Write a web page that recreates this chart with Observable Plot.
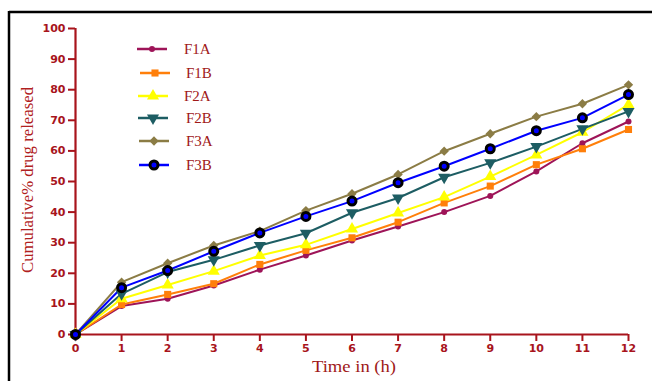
<!DOCTYPE html>
<html><head><meta charset="utf-8">
<script src="https://cdn.jsdelivr.net/npm/d3@7"></script>
<script src="https://cdn.jsdelivr.net/npm/@observablehq/plot@0.6"></script>
<style>
html,body{margin:0;padding:0;background:#fff;}
#chart{position:relative;width:652px;height:381px;overflow:hidden;}
</style>
</head><body><div id="chart"></div>
<script>
const hours = [0,1,2,3,4,5,6,7,8,9,10,11,12];
const F1A = [0, 9.3, 11.7, 16.0, 21.2, 25.8, 30.7, 35.3, 40.0, 45.3, 53.3, 62.5, 69.6];
const F1B = [0, 9.8, 13.1, 16.6, 22.9, 27.5, 31.6, 36.7, 43.0, 48.5, 55.5, 60.7, 67.0];
const F2A = [0, 11.7, 16.2, 20.7, 25.8, 29.3, 34.5, 39.7, 44.9, 51.6, 58.7, 66.1, 75.1];
const F2B = [0, 13.3, 20.4, 24.4, 29.1, 33.1, 39.8, 44.6, 51.4, 56.1, 61.4, 67.2, 72.9];
const F3A = [0, 17.1, 23.3, 29.1, 33.8, 40.5, 46.0, 52.3, 59.9, 65.6, 71.2, 75.4, 81.6];
const F3B = [0, 15.3, 20.9, 27.2, 33.2, 38.6, 43.6, 49.6, 55.0, 60.7, 66.6, 70.8, 78.4];
const seriesNames = ["F1A","F1B","F2A","F2B","F3A","F3B"];
const seriesValues = [F1A, F1B, F2A, F2B, F3A, F3B];
const xTicks = [0,1,2,3,4,5,6,7,8,9,10,11,12];
const yTicks = [0,10,20,30,40,50,60,70,80,90,100];
const xLabel = "Time in (h)";
const yLabel = "Cumulative% drug released";

const colors = ["#9e1458","#ff7f0a","#ffff00","#1d5d63","#8b7c45","#0000ff"];
const symbols = ["circle","square","triangle","triangle","diamond2","circle"];
const rotations = [0,0,0,180,0,0];
const radii = [3,4,4.5,4.5,4.2,4];
const strokes = ["none","none","none","none","none","#000"];
const strokeWidths = [0,0,0,0,0,3];
const axisColor = "#a8141c";

const data = [];
seriesNames.forEach((s,i)=>hours.forEach((h,j)=>data.push({series:s, idx:i, hour:h, value:seriesValues[i][j]})));

const marks = [
  Plot.axisX({ticks:xTicks, tickSize:7, tickPadding:3, strokeWidth:2, label:null}),
  Plot.axisY({ticks:yTicks, tickSize:7, tickPadding:3, strokeWidth:2, label:null}),
  Plot.ruleX([0], {stroke:axisColor, strokeWidth:2.2}),
  Plot.ruleY([0], {stroke:axisColor, strokeWidth:2.2}),
];
seriesNames.forEach((s,i)=>{
  const d = data.filter(r=>r.series===s);
  marks.push(Plot.line(d, {x:"hour", y:"value", stroke:colors[i], strokeWidth:2}));
});
seriesNames.forEach((s,i)=>{
  const d = data.filter(r=>r.series===s);
  marks.push(Plot.dot(d, {x:"hour", y:"value", symbol:()=>symbols[i], r:radii[i], rotate:rotations[i],
    fill:colors[i], stroke:strokes[i], strokeWidth:strokeWidths[i]}));
});

const chart = Plot.plot({
  width:652, height:381,
  marginLeft:75, marginRight:24, marginTop:28, marginBottom:47,
  style:{fontFamily:"'DejaVu Sans'", fontWeight:"bold", fontSize:"11px", color:axisColor, background:"#fff", overflow:"visible"},
  x:{domain:[0,12]},
  y:{domain:[0,100]},
  symbol:{type:"identity"},
  marks
});
document.getElementById("chart").appendChild(chart);

const svg = d3.select(chart);
// frame border (top and left)
svg.append("line").attr("x1",9).attr("x2",660).attr("y1",12).attr("y2",12).attr("stroke","#000").attr("stroke-width",2.5);
svg.append("line").attr("x1",9).attr("x2",9).attr("y1",11).attr("y2",390).attr("stroke","#000").attr("stroke-width",2.5);

// axis titles
svg.append("text").text(yLabel)
  .attr("transform","translate(33,180) rotate(-90)")
  .attr("text-anchor","middle")
  .attr("textLength",186).attr("lengthAdjust","spacingAndGlyphs")
  .attr("font-family","'Liberation Serif'").attr("font-weight","normal").attr("font-size","16px")
  .attr("fill","#b02020");
svg.append("text").text(xLabel)
  .attr("x",354).attr("y",372)
  .attr("text-anchor","middle")
  .attr("textLength",84).attr("lengthAdjust","spacingAndGlyphs")
  .attr("font-family","'Liberation Serif'").attr("font-weight","normal").attr("font-size","16px")
  .attr("fill","#a01818");

// legend
const legY = [49,73,96,118,141,165];
const legX0 = [137,140,138,138,139,139];
const legTx = [184,186,184,186,186,186];
const symMap = {circle:d3.symbolCircle, square:d3.symbolSquare, triangle:d3.symbolTriangle, diamond2:d3.symbolDiamond2};
seriesNames.forEach((s,i)=>{
  const g = svg.append("g");
  g.append("line").attr("x1",legX0[i]).attr("x2",legX0[i]+30).attr("y1",legY[i]).attr("y2",legY[i])
    .attr("stroke",colors[i]).attr("stroke-width",2.5);
  g.append("path").attr("d", d3.symbol(symMap[symbols[i]], Math.PI*radii[i]*radii[i])())
    .attr("transform",`translate(${legX0[i]+15},${legY[i]}) rotate(${rotations[i]})`)
    .attr("fill",colors[i]).attr("stroke",strokes[i]).attr("stroke-width",strokeWidths[i]);
  g.append("text").text(s).attr("x",legTx[i]).attr("y",legY[i]+5)
    .attr("text-anchor","start")
    .attr("font-family","'Liberation Serif'").attr("font-weight","normal").attr("font-size","15px")
    .attr("fill","#a01818");
});
</script>
</body></html>
